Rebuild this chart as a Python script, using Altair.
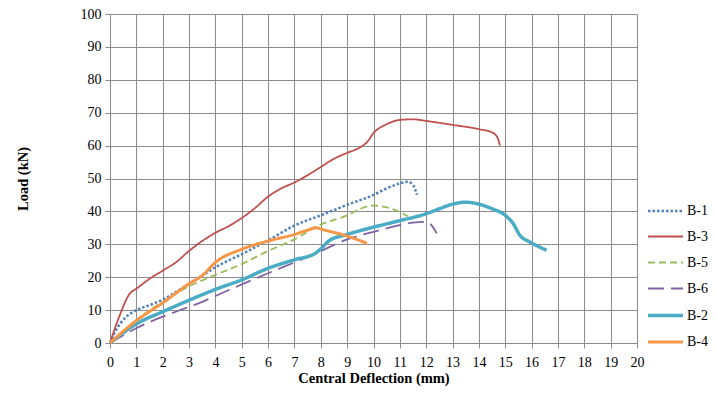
import altair as alt
import pandas as pd

series_order = ["B-1", "B-3", "B-5", "B-6", "B-2", "B-4"]
colors = ["#4F81BD", "#C0504D", "#9BBB59", "#8064A2", "#4BACC6", "#F79646"]
dashes = [[2.5, 2], [1, 0], [7, 4], [16, 7], [1, 0], [1, 0]]
widths = [2.5, 1.8, 1.8, 1.8, 3.5, 3.0]

b1_x = [0, 0.2, 0.4, 0.7, 1, 1.5, 2, 2.5, 3, 3.5, 4, 5, 6, 7, 8, 9, 10, 10.5, 11, 11.3, 11.5, 11.65]
b1_y = [0, 3.5, 6, 8.5, 10, 11.5, 13.2, 15.5, 18, 20.5, 23, 27, 31.2, 35.7, 38.8, 42, 45, 47, 48.5, 49, 48, 45]

b3_x = [0, 0.35, 0.75, 1, 1.5, 2, 2.5, 3, 3.5, 4, 4.5, 5, 5.5, 6, 6.5, 7, 7.5, 8, 8.5, 9, 9.5, 9.75, 10, 10.5, 11, 11.5, 12, 13, 14, 14.5, 14.7, 14.8]
b3_y = [0, 8, 15, 16.5, 19.5, 22, 24.5, 28, 31, 33.5, 35.5, 38, 41, 44.5, 47, 48.8, 51, 53.5, 56, 57.8, 59.5, 61, 63.8, 66.5, 67.8, 68, 67.5, 66.3, 65, 64, 62.5, 60]

b5_x = [0, 1, 2, 3, 4, 5, 6, 7, 8, 9, 9.5, 10, 10.5, 11, 11.3]
b5_y = [0, 7, 12.5, 17.2, 20.7, 24, 28, 31.5, 36, 38.8, 40.8, 41.8, 41.2, 39.8, 38.5]

b6_x = [0, 1, 2, 3, 3.5, 4, 5, 6, 7, 7.8, 8.2, 9, 10, 11, 11.5, 12, 12.2, 12.4]
b6_y = [0, 4.5, 8, 11, 12.5, 14.3, 17.8, 21.2, 24.5, 27.2, 28.7, 31.5, 33.8, 35.8, 36.6, 36.8, 35.8, 33.3]

b2_x = [0, 1, 2, 3, 4, 5, 6, 7, 7.8, 8.05, 8.3, 9, 10, 11, 12, 12.5, 13, 13.5, 14, 14.5, 15, 15.3, 15.56, 15.94, 16.57]
b2_y = [0, 5.8, 9.5, 13, 16.3, 19.2, 22.7, 25.3, 27.3, 29, 31, 33, 35.2, 37.2, 39.3, 40.8, 42.2, 42.8, 42.2, 40.8, 38.8, 36.3, 32.7, 30.7, 28.2]

b4_x = [0, 1, 2, 3, 3.5, 4, 5, 6, 7, 7.5, 7.8, 8.2, 9, 9.75]
b4_y = [0, 6.8, 12.2, 18, 20.5, 24.5, 28.5, 31, 33, 34.3, 35, 34.2, 32.5, 30.3]

x_ticks = list(range(0, 21))
y_ticks = list(range(0, 101, 10))

series = {
    "B-1": (b1_x, b1_y), "B-3": (b3_x, b3_y), "B-5": (b5_x, b5_y),
    "B-6": (b6_x, b6_y), "B-2": (b2_x, b2_y), "B-4": (b4_x, b4_y),
}
rows = []
for name, (xs, ys) in series.items():
    for i, (xv, yv) in enumerate(zip(xs, ys)):
        rows.append({"series": name, "x": xv, "y": yv, "i": i})
df = pd.DataFrame(rows)

FONT = "Liberation Serif"

legend = alt.Legend(
    title=None, orient="none", legendX=536, legendY=178,
    labelFont=FONT, labelFontSize=14, labelColor="black",
    symbolType="stroke", symbolSize=1225, rowPadding=-8,
    labelOffset=2, values=series_order,
)

chart = alt.Chart(df).mark_line(interpolate="monotone").encode(
    x=alt.X("x:Q", scale=alt.Scale(domain=[0, 20], nice=False),
            axis=alt.Axis(values=x_ticks, title="Central Deflection (mm)", format="d", labelFlush=False)),
    y=alt.Y("y:Q", scale=alt.Scale(domain=[0, 100], nice=False),
            axis=alt.Axis(values=y_ticks, title="Load (kN)", format="d", labelFlush=False)),
    color=alt.Color("series:N", scale=alt.Scale(domain=series_order, range=colors), legend=legend),
    strokeDash=alt.StrokeDash("series:N", scale=alt.Scale(domain=series_order, range=dashes), legend=legend),
    strokeWidth=alt.StrokeWidth("series:N", scale=alt.Scale(type="ordinal", domain=series_order, range=widths), legend=legend),
    order="i:Q",
).properties(
    width=527, height=329,
    autosize=alt.AutoSizeParams(type="none"),
    padding={"left": 102, "top": 6, "right": 71, "bottom": 43},
).configure_view(stroke=None).configure_axis(
    grid=True, gridColor="#8c8c8c", gridWidth=1,
    domainColor="#8c8c8c", tickColor="#8c8c8c", tickSize=5,
    labelFont=FONT, labelFontSize=14, labelColor="black", labelPadding=4,
    titleFont=FONT, titleFontSize=14.5, titleFontWeight="bold", titleColor="black",
).configure_axisX(titlePadding=2, labelPadding=7).configure_axisY(titlePadding=50)

chart.save("out.html", embed_options={"renderer": "svg", "actions": False})
